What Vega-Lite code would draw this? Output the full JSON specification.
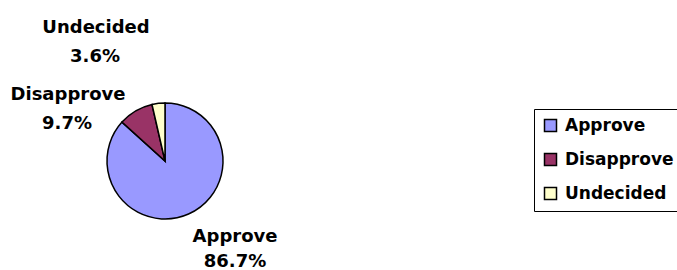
{
  "$schema": "https://vega.github.io/schema/vega-lite/v6.json",
  "width": 330,
  "height": 322,
  "padding": 0,
  "autosize": {"type": "pad"},
  "background": "white",
  "data": {
    "values": [
      {"category": "Approve", "share": 0.867},
      {"category": "Disapprove", "share": 0.097},
      {"category": "Undecided", "share": 0.036}
    ]
  },
  "config": {
    "view": {"stroke": null},
    "text": {"font": "DejaVu Sans", "fontWeight": "bold", "fontSize": 18, "fill": "black", "align": "center", "baseline": "alphabetic"}
  },
  "layer": [
    {
      "mark": {"type": "arc", "outerRadius": 58, "stroke": "black", "strokeWidth": 1.5},
      "encoding": {
        "theta": {"field": "share", "type": "quantitative", "stack": true},
        "color": {
          "field": "category",
          "type": "nominal",
          "scale": {"domain": ["Approve", "Disapprove", "Undecided"], "range": ["#9999FF", "#993366", "#FFFFCC"]},
          "legend": {
            "title": null,
            "orient": "none",
            "legendX": 534,
            "legendY": 109,
            "padding": 8,
            "strokeColor": "black",
            "fillColor": "white",
            "symbolType": "square",
            "symbolSize": 144,
            "symbolStrokeColor": "black",
            "symbolStrokeWidth": 1.5,
            "labelFont": "DejaVu Sans",
            "labelFontWeight": "bold",
            "labelFontSize": 17,
            "labelColor": "black",
            "labelOffset": 6,
            "labelLimit": 300,
            "rowPadding": 15
          }
        },
        "order": {"field": "category"}
      }
    },
    {
      "transform": [{"filter": "datum.category === 'Undecided'"}],
      "mark": {"type": "text", "dx": -69, "dy": -128},
      "encoding": {"text": {"field": "category"}}
    },
    {
      "transform": [{"filter": "datum.category === 'Undecided'"}],
      "mark": {"type": "text", "dx": -70, "dy": -99},
      "encoding": {"text": {"field": "share", "type": "quantitative", "format": ".1%"}}
    },
    {
      "transform": [{"filter": "datum.category === 'Disapprove'"}],
      "mark": {"type": "text", "dx": -97, "dy": -61},
      "encoding": {"text": {"field": "category"}}
    },
    {
      "transform": [{"filter": "datum.category === 'Disapprove'"}],
      "mark": {"type": "text", "dx": -98, "dy": -32},
      "encoding": {"text": {"field": "share", "type": "quantitative", "format": ".1%"}}
    },
    {
      "transform": [{"filter": "datum.category === 'Approve'"}],
      "mark": {"type": "text", "dx": 70, "dy": 81},
      "encoding": {"text": {"field": "category"}}
    },
    {
      "transform": [{"filter": "datum.category === 'Approve'"}],
      "mark": {"type": "text", "dx": 70, "dy": 106},
      "encoding": {"text": {"field": "share", "type": "quantitative", "format": ".1%"}}
    }
  ]
}
